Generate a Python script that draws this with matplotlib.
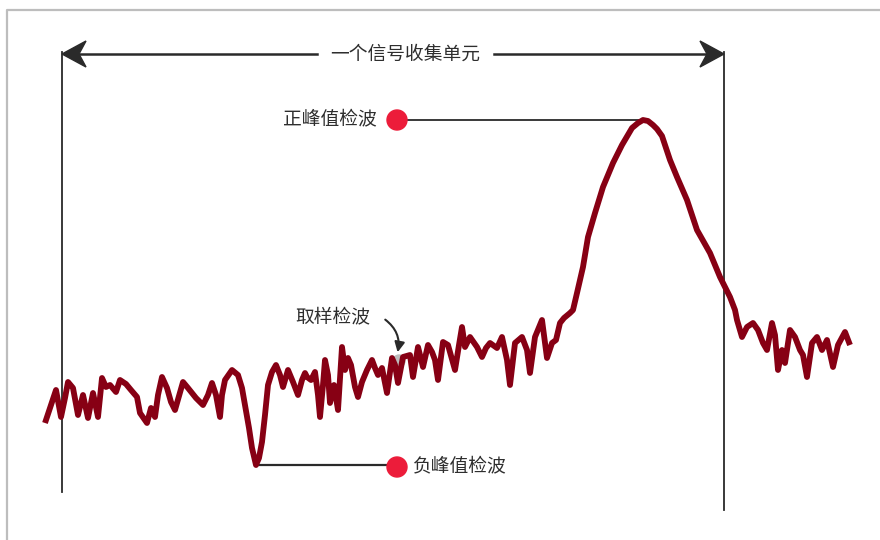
import matplotlib
matplotlib.use("Agg")
import matplotlib.pyplot as plt
from matplotlib.patches import Polygon, Circle, FancyArrowPatch

plt.rcParams['font.family'] = ['Noto Sans CJK SC', 'DejaVu Sans']

# trace (x position, screen depth -- bigger = lower)
trace_x = [45, 50, 56, 61, 65, 68, 73, 78, 83, 88, 93, 98, 102, 106, 110, 116, 120, 126,
           131, 137, 140, 147, 151, 155, 158, 162, 167, 171, 175, 177, 183, 188, 196, 203,
           208, 212, 216, 220, 222, 225, 232, 238, 242, 245, 249, 252, 256, 259, 262, 265,
           268, 272, 276, 280, 283, 288, 293, 298, 302, 305, 307, 311, 315, 318, 320, 323,
           325, 328, 330, 334, 338, 340, 342, 345, 348, 351, 355, 358, 362, 367, 372, 375,
           378, 382, 387, 392, 395, 398, 403, 410, 413, 418, 423, 428, 432, 435, 438, 443,
           448, 455, 459, 462, 465, 470, 477, 482, 486, 490, 497, 502, 507, 510, 515, 522,
           527, 530, 535, 542, 547, 552, 556, 560, 564, 570, 573, 577, 583, 588, 595, 603,
           613, 622, 632, 638, 643, 648, 653, 657, 662, 670, 677, 687, 697, 710, 720, 730,
           735, 737, 742, 747, 753, 758, 763, 767, 772, 775, 778, 782, 785, 790, 795, 800,
           803, 807, 812, 817, 822, 827, 833, 838, 845, 850]
trace_y = [423, 408, 390, 417, 398, 382, 388, 415, 395, 418, 393, 417, 378, 387, 385, 392, 380, 384,
           390, 397, 413, 423, 408, 417, 395, 377, 388, 402, 410, 403, 382, 388, 398, 405,
           395, 383, 395, 417, 395, 380, 370, 375, 388, 405, 428, 448, 465, 458, 442, 415,
           385, 372, 365, 375, 387, 370, 382, 395, 380, 373, 377, 380, 372, 395, 417, 385,
           360, 375, 403, 385, 410, 378, 347, 370, 358, 365, 387, 397, 382, 370, 360, 368,
           375, 368, 393, 358, 365, 383, 357, 355, 377, 347, 367, 345, 352, 360, 380, 342,
           345, 370, 345, 327, 347, 337, 347, 357, 348, 343, 348, 337, 360, 385, 343, 337,
           350, 373, 337, 320, 358, 343, 340, 323, 318, 313, 310, 293, 267, 237, 213, 187,
           163, 145, 128, 123, 120, 121, 125, 129, 136, 160, 177, 200, 230, 253, 277, 297,
           310, 320, 337, 327, 323, 330, 343, 350, 323, 335, 370, 350, 363, 330, 337, 350,
           355, 377, 343, 337, 350, 340, 367, 345, 332, 345]

span_label = "一个信号收集单元"
pos_label = "正峰值检波"
neg_label = "负峰值检波"
sample_label = "取样检波"

dark = '#2a2a2a'
text_col = '#2e2e2e'
red = '#ec1c3a'
trace_col = '#870014'

fig = plt.figure(figsize=(8.8, 5.4), dpi=100)
ax = fig.add_axes([0, 0, 1, 1])
ax.set_xlim(0, 880)
ax.set_ylim(540, 0)
ax.axis('off')

# light frame
ax.plot([7, 7, 880], [540, 10, 10], color='#bdbdbd', lw=1.6, solid_capstyle='butt')

# bracket of one bin
left, right, top = 62, 724, 54
ax.plot([left, left], [52, 492], color=dark, lw=1.3)
ax.plot([right, right], [52, 510], color=dark, lw=1.3)
ax.plot([left + 15, 317], [top, top], color=dark, lw=1.8)
ax.plot([494, right - 15], [top, top], color=dark, lw=1.8)


def stealth(tip, direction):
    d = direction
    pts = [(tip, top), (tip + d * 24, top - 13), (tip + d * 17, top),
           (tip + d * 24, top + 13)]
    ax.add_patch(Polygon(pts, closed=True, color=dark, zorder=3))


stealth(left, 1)
stealth(right, -1)
ax.text(405, top, span_label, ha='center', va='center', fontsize=13.5, color=text_col)

# peak index
i_pos = trace_y.index(min(trace_y))
i_neg = trace_y.index(max(trace_y))

ax.plot([397, trace_x[i_pos]], [trace_y[i_pos], trace_y[i_pos]], color=dark, lw=1.3)
ax.plot([trace_x[i_neg], 397], [trace_y[i_neg], trace_y[i_neg]], color=dark, lw=1.6)

# grey spot behind sample point
ax.add_patch(Circle((399, 361), 6, color='#bdbdbd', zorder=1))

ax.plot(trace_x, trace_y, color=trace_col, lw=4.2, solid_joinstyle='round',
        solid_capstyle='butt', zorder=2)

ax.add_patch(Circle((397, trace_y[i_pos]), 10, color=red, zorder=4))
ax.add_patch(Circle((397, trace_y[i_neg] + 2), 10, color=red, zorder=4))

ax.text(377, trace_y[i_pos], pos_label, ha='right', va='center', fontsize=13.5,
        color=text_col)
ax.text(413, trace_y[i_neg] + 2, neg_label, ha='left', va='center', fontsize=13.5,
        color=text_col)
ax.text(333, 318, sample_label, ha='center', va='center', fontsize=13.5, color=text_col)

arr = FancyArrowPatch((383, 318), (397, 355), connectionstyle='arc3,rad=-0.35',
                      arrowstyle='-|>', mutation_scale=15, color=dark, lw=1.5, zorder=3)
ax.add_patch(arr)

fig.savefig('out.png', dpi=100)
